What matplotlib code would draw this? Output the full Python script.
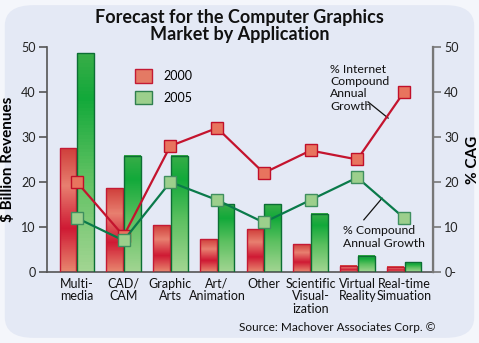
import numpy as np
import matplotlib
matplotlib.use("Agg")
import matplotlib.pyplot as plt
from matplotlib.colors import LinearSegmentedColormap
from matplotlib.patches import Patch, FancyBboxPatch

categories = ["Multi-\nmedia", "CAD/\nCAM", "Graphic\nArts", "Art/\nAnimation", "Other",
              "Scientific\nVisual-\nization", "Virtual\nReality", "Real-time\nSimuation"]
rev_2000 = [27.5, 18.6, 10.4, 7.3, 9.5, 6.2, 1.4, 1.2]
rev_2005 = [48.6, 25.8, 25.8, 15.0, 15.0, 12.9, 3.6, 2.2]
cag_internet = [20, 8, 28, 32, 22, 27, 25, 40]
cag_total = [12, 7, 20, 16, 11, 16, 21, 12]

plt.rcParams['font.family'] = ['Lato', 'DejaVu Sans']

bg = '#e4e9f5'
fig = plt.figure(figsize=(4.79, 3.43), dpi=100)
fig.patch.set_facecolor('#f4f6fb')
fig.patches.append(FancyBboxPatch((0.01, 0.015), 0.98, 0.97, boxstyle="round,pad=0,rounding_size=0.06",
                                  transform=fig.transFigure, facecolor=bg, edgecolor='none', zorder=-10))

ax = fig.add_axes([0.098, 0.207, 0.806, 0.656])
ax.set_facecolor('none')
ax2 = ax.twinx()

x = np.arange(len(categories))
w = 0.36
red_cmap = LinearSegmentedColormap.from_list('r', [(0, '#e8866e'), (0.35, '#cf1a34'), (0.7, '#e88070'), (1, '#d0403c')])
green_cmap = LinearSegmentedColormap.from_list('g', [(0, '#a2d592'), (0.45, '#5cc060'), (0.8, '#12a93a'), (1, '#38ad48')])
grad = np.linspace(0, 1, 64).reshape(-1, 1)

b1 = ax.bar(x - w / 2 - 0.01, rev_2000, w, facecolor='none', edgecolor='#c41a34', linewidth=1.0, zorder=3)
b2 = ax.bar(x + w / 2 + 0.01, rev_2005, w, facecolor='none', edgecolor='#0c6e34', linewidth=1.0, zorder=3)
for bars, cm in [(b1, red_cmap), (b2, green_cmap)]:
    for r in bars:
        x0, h = r.get_x(), r.get_height()
        ax.imshow(grad, extent=[x0, x0 + r.get_width(), 0, h], origin='lower', cmap=cm,
                  aspect='auto', zorder=2)

ax.set_xlim(-0.64, 7.62)
ax.set_ylim(0, 50)
ax2.set_ylim(0, 50)

ax2.plot(x, cag_internet, color='#c4142e', linewidth=1.6, marker='s', markersize=9,
         markerfacecolor='#e8745e', markeredgecolor='#c0102a', markeredgewidth=1.0, zorder=5)
ax2.plot(x, cag_total, color='#0a7a4a', linewidth=1.6, marker='s', markersize=9,
         markerfacecolor='#9ccf8c', markeredgecolor='#3f8f5f', markeredgewidth=1.0, zorder=5)

for a in (ax, ax2):
    a.spines['top'].set_visible(False)
ax.spines['left'].set_color('#555555')
ax.spines['bottom'].set_color('#555555')
ax2.spines['right'].set_color('#777777')
ax2.spines['left'].set_visible(False)
ax2.spines['bottom'].set_visible(False)
for s in ['left', 'bottom']:
    ax.spines[s].set_linewidth(1.2)
ax2.spines['right'].set_linewidth(1.6)

ticks = [0, 10, 20, 30, 40, 50]
ax.set_yticks(ticks)
ax.set_yticklabels([str(t) for t in ticks])
ax2.set_yticks(ticks)
ax2.set_yticklabels(['0-'] + [str(t) for t in ticks[1:]])
ax.tick_params(axis='y', length=6, width=1.2, color='#555555', labelsize=9, labelcolor='#222222', pad=2)
ax2.tick_params(axis='y', length=6, width=1.2, color='#777777', labelsize=9, labelcolor='#222222', pad=2)
ax.set_xticks(x)
ax.set_xticklabels(categories, fontsize=9, color='#111111', linespacing=1.05)
ax.tick_params(axis='x', length=0, pad=4)

ax.set_ylabel('$ Billion Revenues', fontsize=11, fontweight='bold')
ax.yaxis.set_label_coords(-0.083, 0.5)
ax2.set_ylabel('% CAG', fontsize=11, fontweight='bold')
ax2.yaxis.set_label_coords(1.085, 0.5)

fig.text(0.5, 0.975, 'Forecast for the Computer Graphics\nMarket by Application', ha='center', va='top',
         fontsize=13, fontweight='bold', linespacing=1.05, color='#111111')

ax.legend(handles=[Patch(facecolor='#e47a64', edgecolor='#c41a34', label='2000'),
                   Patch(facecolor='#9ccf8c', edgecolor='#2f7f4f', label='2005')],
          loc='upper left', bbox_to_anchor=(0.2, 0.95), frameon=False, fontsize=9,
          handlelength=1.3, handleheight=1.3, labelspacing=0.6, handletextpad=0.9)

ax2.text(5.42, 46.3, '% Internet\nCompound\nAnnual\nGrowth', fontsize=8.8, va='top', ha='left',
         linespacing=1.15, color='#111111')
ax2.plot([6.23, 6.66], [37.8, 34.2], color='#111111', linewidth=0.9)
ax2.text(5.69, 10.4, '% Compound\nAnnual Growth', fontsize=8.8, va='top', ha='left',
         linespacing=1.15, color='#111111')
ax2.plot([6.14, 6.53], [11.6, 16.4], color='#111111', linewidth=0.9)

fig.text(0.91, 0.045, 'Source: Machover Associates Corp. \u00a9', ha='right', va='center',
         fontsize=8.5, color='#111111')

fig.savefig('out.png', dpi=100, facecolor=fig.get_facecolor())
